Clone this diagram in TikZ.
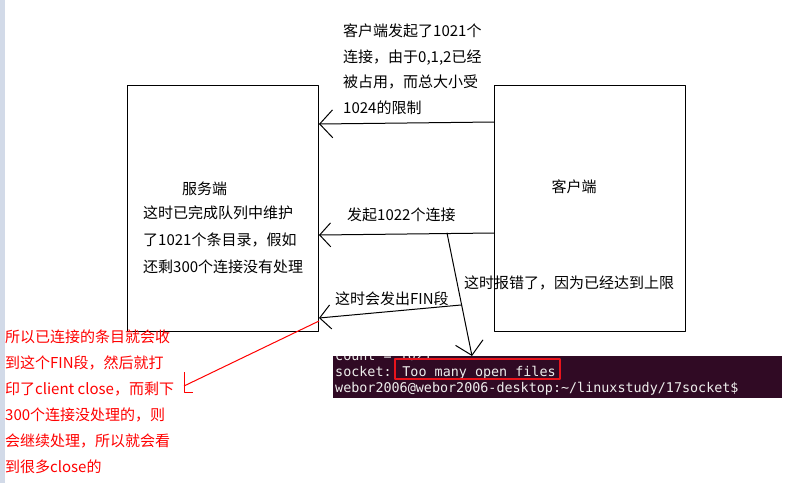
\documentclass[tikz,border=0pt]{standalone}
\usepackage{fontspec}
\newfontfamily\cjk{Noto Sans CJK SC}
\newfontfamily\termfont{DejaVu Sans Mono}
\usetikzlibrary{arrows.meta}
\definecolor{termbg}{HTML}{300A24}
\definecolor{termfg}{HTML}{EEEEEC}
\definecolor{sidebar}{HTML}{D2DAE8}
\definecolor{hlred}{HTML}{E8141C}
\tikzset{
  box/.style={draw,line width=1pt,minimum width=191pt,minimum height=246pt,inner sep=0pt,anchor=north west},
  arr/.style={line width=1pt,line cap=round,-{Straight Barb[length=13pt,width=28pt]}},
  note/.style={font=\cjk\fontsize{15}{26}\selectfont,align=left,anchor=north west,inner sep=0pt},
  label/.style={font=\cjk\fontsize{15}{18}\selectfont,inner sep=0pt},
  termline/.style={font=\termfont\fontsize{13.4}{16}\selectfont,text=termfg,anchor=base west,inner sep=0pt},
}
\begin{document}
\begin{tikzpicture}[x=1pt,y=-1pt,line join=round]
  \useasboundingbox (0,0) rectangle (808,483);
  \fill[sidebar] (0,0) rectangle (5,483);
  % server and client
  \node[box] (srv) at (127,85) {};
  \node[box] (cli) at (494,85) {};
  \node[label] (srvname) at (204.5,189) {服务端};
  \node[label] (cliname) at (574,187) {客户端};
  \node[note,font=\cjk\fontsize{15}{27}\selectfont] (queue) at (143,206)
    {这时已完成队列中维护\\了1021个条目录，假如\\还剩300个连接没有处理};
  \node[note,font=\cjk\fontsize{15}{25.5}\selectfont] (limit) at (343,24)
    {客户端发起了1021个\\连接，由于0,1,2已经\\被占用，而总大小受\\1024的限制};
  \node[label,anchor=west] (conn) at (347,215) {发起1022个连接};
  \node[label,anchor=west] (fintxt) at (335,299) {这时会发出FIN段};
  \node[label,anchor=west] (errtxt) at (464,283) {这时报错了，因为已经达到上限};
  % terminal
  \node[fill=termbg,minimum width=449pt,minimum height=42pt,inner sep=0pt,anchor=north west] (term) at (333,356) {};
  \begin{scope}
    \clip (333,356) rectangle (782,398);
    \node[termline] (count) at (335,360.5) {count = 1021};
  \end{scope}
  \node[termline] (errline) at (335,376.5) {socket: Too many open files};
  \node[termline] (prompt) at (335,392.5) {webor2006@webor2006-desktop:\textasciitilde/linuxstudy/17socket\$};
  \draw[hlred,line width=2pt] (395,359) rectangle (560,379);
  % arrows
  \coordinate (split) at (447,233);
  \coordinate (fin) at (461,305);
  \draw[arr] (cli.west |- 0,122) -- (srv.east |- 0,124);
  \draw[arr,-{Straight Barb[length=11pt,width=24pt]}] (cli.west |- 0,233) -- (srv.east |- 0,235);
  \draw[arr] (split) -- (term.north -| 472,0);
  \draw[arr,-{Straight Barb[length=11pt,width=24pt]}] (fin) -- (srv.east |- 0,318);
  % red note
  \node[note,text=red,font=\cjk\fontsize{15}{26}\selectfont] (why) at (5,330)
    {所以已连接的条目就会收\\到这个FIN段，然后就打\\印了client close，而剩下\\300个连接没处理的，则\\会继续处理，所以就会看\\到很多close的};
  \coordinate (hook) at (184,386);
  \draw[red,line width=1pt] (srv.east |- 0,321) -- (hook);
  \draw[red,line width=1pt] (184,372) -- (184,392) -- (193,392);
\end{tikzpicture}
\end{document}
